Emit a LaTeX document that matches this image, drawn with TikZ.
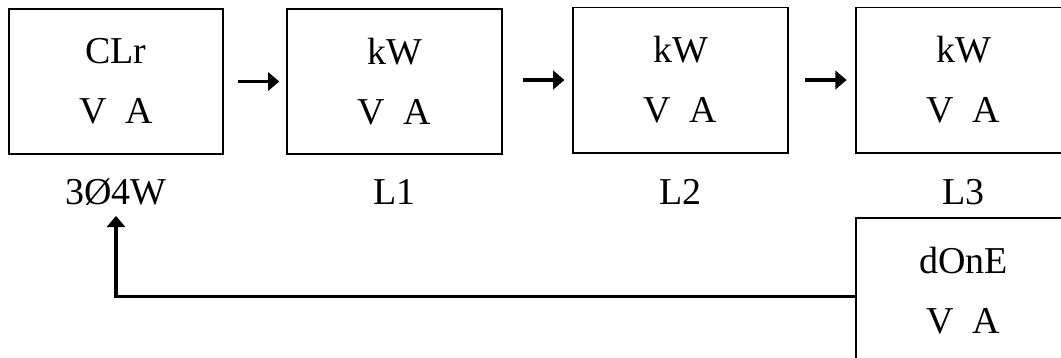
\documentclass[tikz,border=0pt]{standalone}
\usepackage{fontspec}
\setmainfont{Liberation Serif}
\usetikzlibrary{arrows.meta}

\tikzset{
  disp/.style={draw, line width=1.4pt, minimum width=5.35cm, minimum height=3.625cm,
    inner sep=0pt, align=center, font=\fontsize{27}{42.7}\selectfont},
  tag/.style={font=\fontsize{27}{32}\selectfont, inner sep=1pt},
  flow/.style={line width=2.2pt, -{Triangle[length=8pt,width=13pt]}}
}

\begin{document}
\begin{tikzpicture}[x=0.025cm, y=-0.025cm]
	%%%%% FRAME %%%%%
	\useasboundingbox (0,0) rectangle (1061,357);
	\clip (0,0) rectangle (1061,357);
	
	%%%%% DISPLAYS %%%%%
	\node[disp] (clr) at (116,81.5) {CLr\\V~~A};
	\node[disp] (kwa) at (394.5,81.5) {kW\\V~~A};
	\node[disp] (kwb) at (680.5,80) {kW\\V~~A};
	\node[disp] (kwc) at (963.5,80) {kW\\V~~A};
	\node[disp] (done) at (963.5,290.5) {dOnE\\V~~A};
	
	%%%%% LABELS %%%%%
	\node[tag] (sys) at (116,192) {3Ø4W};
	\node[tag] (lone) at (394.5,192) {L1};
	\node[tag] (ltwo) at (680.5,192) {L2};
	\node[tag] (lthree) at (963.5,192) {L3};
	
	%%%%% ARROWS %%%%%
	\draw[flow] ([xshift=0.35cm]clr.east) -- ([xshift=-0.18cm]kwa.west);
	\draw[flow] ([xshift=0.5cm]kwb.west -| kwa.east) -- ([xshift=-0.2cm]kwb.west);
	\draw[flow] ([xshift=0.42cm]kwb.east) -- ([xshift=-0.22cm]kwc.west);
	\draw[flow] ([yshift=-0.14cm]done.west) -| ([yshift=-0.22cm]sys.south);
	
\end{tikzpicture}
\end{document}
